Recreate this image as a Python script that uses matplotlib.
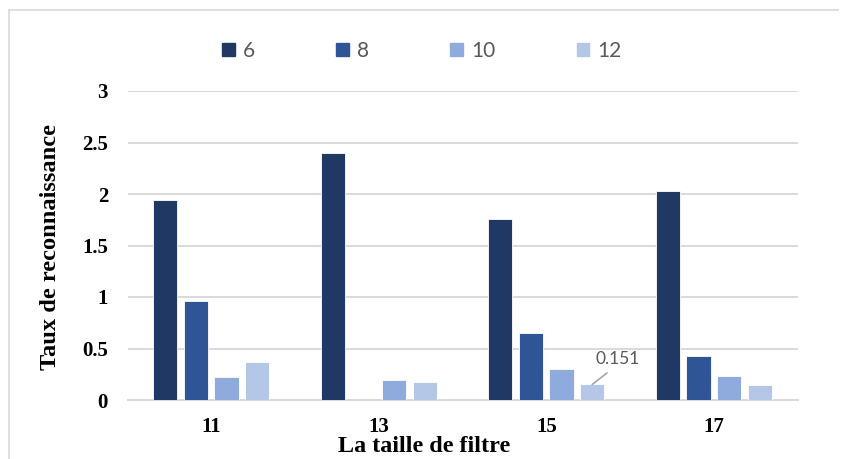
import matplotlib
matplotlib.use("Agg")
import matplotlib.pyplot as plt
from matplotlib.lines import Line2D
import numpy as np

# Filter sizes on the x axis and one series per legend entry
categories = ["11", "13", "15", "17"]
series_names = ["6", "8", "10", "12"]
values_6 = [1.94, 2.40, 1.76, 2.03]
values_8 = [0.96, 0.0, 0.65, 0.43]
values_10 = [0.22, 0.19, 0.30, 0.23]
values_12 = [0.37, 0.17, 0.151, 0.15]
yticks = [0, 0.5, 1, 1.5, 2, 2.5, 3]
ytick_labels = ["0", "0.5", "1", "1.5", "2", "2.5", "3"]

series = [values_6, values_8, values_10, values_12]
colors = ["#203864", "#2F5597", "#8FAADC", "#B4C7E7"]

W, H = 842, 459
fig = plt.figure(figsize=(W / 100, H / 100), dpi=100)
ax = fig.add_axes([127.5 / W, 1 - 400 / H, 670 / W, 309 / H])

x = np.arange(len(categories))
pitch = 0.183
width = 0.146
bars = []
for i, (vals, col) in enumerate(zip(series, colors)):
    b = ax.bar(x + (i - 1.5) * pitch, vals, width, color=col,
               edgecolor="white", linewidth=0.6, label=series_names[i], zorder=3)
    bars.append(b)

ax.set_xlim(-0.5, len(categories) - 0.5)
ax.set_ylim(0, 3)
ax.set_yticks(yticks)
ax.set_yticklabels(ytick_labels)
ax.set_xticks(x)
ax.set_xticklabels(categories)

serif = "Liberation Serif"
for lab in ax.get_yticklabels() + ax.get_xticklabels():
    lab.set_fontfamily(serif)
    lab.set_fontweight("bold")
    lab.set_fontsize(15)
ax.tick_params(axis="both", length=0)
ax.tick_params(axis="y", pad=14)
ax.tick_params(axis="x", pad=12)

ax.grid(axis="y", color="#D9D9D9", linewidth=1.4, zorder=0)
ax.set_axisbelow(True)
for s in ["left", "right", "top"]:
    ax.spines[s].set_visible(False)
ax.spines["bottom"].set_color("#D9D9D9")
ax.spines["bottom"].set_linewidth(1.4)
ax.spines["bottom"].set_zorder(0)

# Value label on the 12-series bar of filter size 15
bar = bars[3][2]
ax.annotate(f"{values_12[2]:.3f}",
            xy=(bar.get_x() + bar.get_width() / 2, values_12[2]),
            xytext=(18, 18.5), textcoords="offset points",
            ha="center", va="center", fontsize=12.5, color="#595959",
            family="Lato",
            arrowprops=dict(arrowstyle="-", color="#A6A6A6", lw=1.2,
                            shrinkA=4, shrinkB=0, relpos=(0.45, 0.0)))

fig.text(51 / W, 1 - 247 / H, "Taux de reconnaissance", rotation=90,
         ha="center", va="center", family=serif, fontweight="bold", fontsize=17.6)
fig.text(424 / W, 1 - 447 / H, "La taille de filtre",
         ha="center", va="center", family=serif, fontweight="bold", fontsize=17.4)

handles = [plt.Rectangle((0, 0), 1, 1, color=c) for c in colors]
fig.legend(handles, series_names, loc="center", bbox_to_anchor=(422 / W, 1 - 51 / H),
           ncol=4, frameon=False, prop={"family": "Lato", "size": 15},
           labelcolor="#595959", handlelength=0.6, handleheight=0.6,
           handletextpad=0.4, columnspacing=3.9)

# Chart frame
frame_color = "#D9D9D9"
fig.add_artist(Line2D([9 / W, 838 / W], [1 - 10 / H, 1 - 10 / H],
                      transform=fig.transFigure, color=frame_color, lw=1.2))
fig.add_artist(Line2D([9 / W, 9 / W], [1 - 10 / H, 0],
                      transform=fig.transFigure, color=frame_color, lw=1.2))

fig.savefig("out.png", dpi=100)
